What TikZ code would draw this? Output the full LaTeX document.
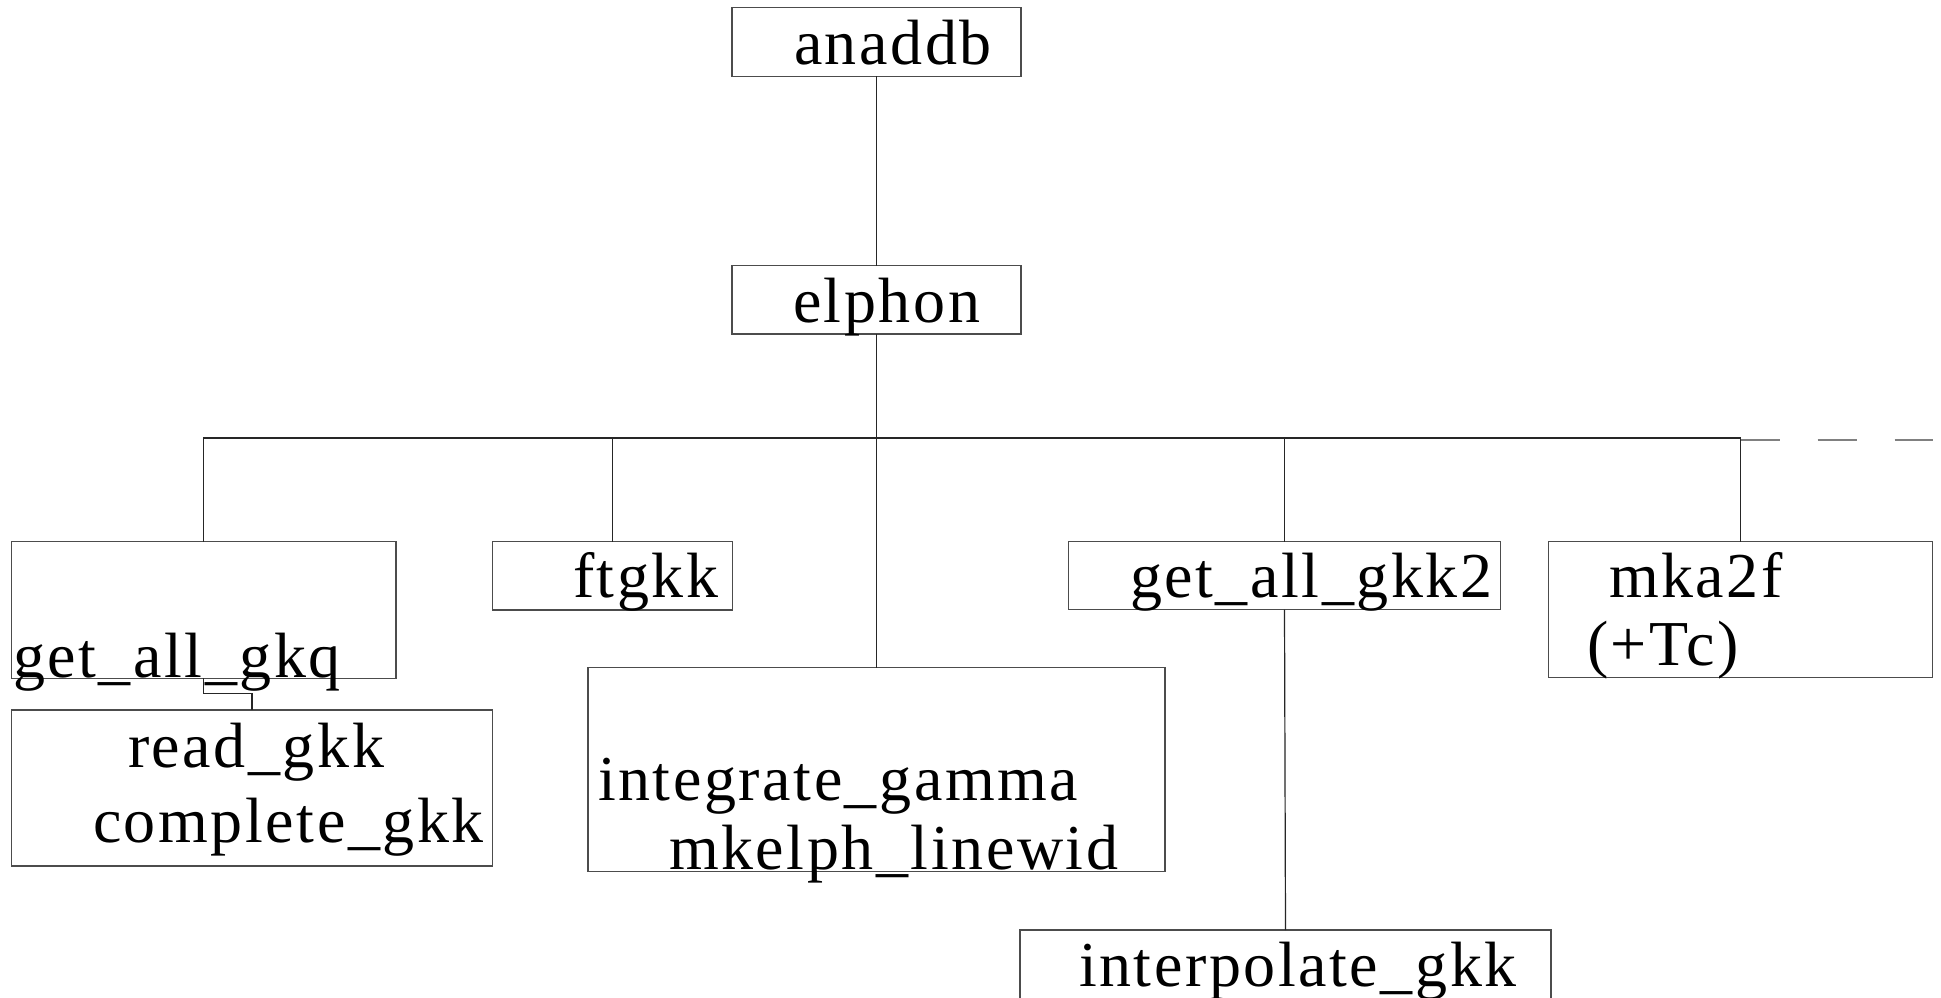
\documentclass[tikz,border=0pt]{standalone}
\usepackage{fontspec}
\setmainfont{Liberation Serif}[LetterSpace=4]
\usetikzlibrary{calc}
\begin{document}
\begin{tikzpicture}[x=1pt,y=-1pt,
  every node/.style={inner sep=0pt,outer sep=0pt},
  box/.style={draw=black!70,line width=1.3pt,rectangle,anchor=north west},
  lbl/.style={anchor=base west,font=\fontsize{64}{70}\selectfont},
  conn/.style={draw=black!85,line width=1.2pt},
  dashconn/.style={draw=black!50,line width=1.6pt,dash pattern=on 39pt off 38pt}]
\useasboundingbox (0,0) rectangle (1941,997);
\clip (0,0) rectangle (1941,997);
\fill[white] (0,0) rectangle (1941,997);
% boxes
\node[box,minimum width=289pt,minimum height=69pt] (anaddb) at (732,7.3) {};
\node[box,minimum width=289pt,minimum height=68.3pt] (elphon) at (732,265.7) {};
\node[box,minimum width=384.3pt,minimum height=136.6pt] (gkq) at (11.7,541.7) {};
\node[box,minimum width=240pt,minimum height=68.3pt] (ftgkk) at (492.3,541.7) {};
\node[box,minimum width=432.4pt,minimum height=68pt] (gkk2) at (1068.3,541.7) {};
\node[box,minimum width=384.4pt,minimum height=136pt] (mka2f) at (1548.3,541.7) {};
\node[box,minimum width=480.6pt,minimum height=156pt] (readgkk) at (11.7,710) {};
\node[box,minimum width=577pt,minimum height=204pt] (integ) at (588,667.7) {};
\node[box,minimum width=531pt,minimum height=90pt] (interp) at (1020,930) {};
% texts
\node[lbl] (tanaddb) at (794,64) {anaddb};
\node[lbl] (telphon) at (793,322) {elphon};
\node[lbl] (tgkq) at (13,677) {get\_all\_gkq};
\node[lbl] (tread) at (128,767) {read\_gkk};
\node[lbl] (tcomplete) at (93,842) {complete\_gkk};
\node[lbl] (tftgkk) at (573,597) {ftgkk};
\node[lbl] (tgkk2) at (1130,597) {get\_all\_gkk2};
\node[lbl] (tmka2f) at (1609,597) {mka2f};
\node[lbl] (ttc) at (1587,665) {(+Tc)};
\node[lbl] (tinteg) at (598,800) {integrate\_gamma};
\node[lbl] (tmkelph) at (669,869) {mkelph\_linewid};
\node[lbl] (tinterp) at (1079,986) {interpolate\_gkk};
% connectors
\coordinate (bus) at (876.5,438);
\coordinate (busR) at (mka2f.north |- bus);
\coordinate (dashstart) at (1740.5,440);
\coordinate (dashend) at (1933,440);
\draw[conn] (anaddb.south) -- (elphon.north);
\draw[conn] (elphon.south) -- (integ.north);
\draw[conn] (gkq.north) |- (bus) -| (mka2f.north);
\draw[conn] (ftgkk.north) -- (ftgkk.north |- bus);
\draw[conn] (gkk2.north) -- (gkk2.north |- bus);
\draw[conn] (gkk2.south) -- (interp.north);
\draw[conn] (gkq.south) |- ($(readgkk.north)+(0,-16.7)$) -- (readgkk.north);
\draw[dashconn] (dashstart) -- (dashend);
\end{tikzpicture}
\end{document}
